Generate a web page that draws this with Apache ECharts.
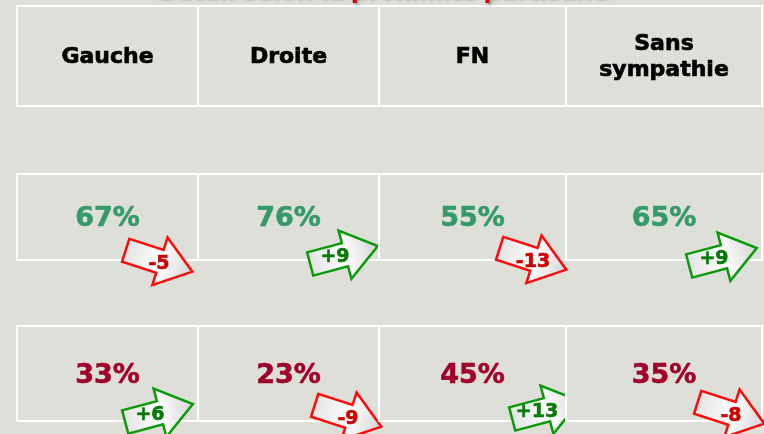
<!DOCTYPE html>
<html>
<head>
<meta charset="utf-8">
<script src="https://cdn.jsdelivr.net/npm/echarts@6/dist/echarts.min.js"></script>
<style>
  html, body { margin: 0; padding: 0; background: #dfdfda; }
  #chart { width: 764px; height: 434px; }
</style>
</head>
<body>
<div id="chart"></div>
<script>
    // données
    var titre = 'Détail selon la proximité partisane'
    var categories = ['Gauche', 'Droite', 'FN', 'Sans\nsympathie']
    var ligne1 = [67, 76, 55, 65]
    var evol1 = [-5, 9, -13, 9]
    var ligne2 = [33, 23, 45, 35]
    var evol2 = [6, -9, 13, -8]

    // mise en page (pixels dans la grille)
    var colEdges = [0, 181, 362, 549, 745]
    var rowEdges = [[0, 100], [168, 254], [320, 415]]
    var arrowOffsets = [
        [[-39, 1], [-35, -5], [-33, -1], [-39, -3]],
        [[-39, -8], [-31, -5], [-20, -11], [-31, -8]]
    ]

    var cells = []
    categories.forEach(function (c, i) {
        cells.push([i, 0, c, null])
    })
    ligne1.forEach(function (v, i) {
        cells.push([i, 1, v, evol1[i]])
    })
    ligne2.forEach(function (v, i) {
        cells.push([i, 2, v, evol2[i]])
    })

    function arrowPoints(len, shaftH, headH, headL) {
        var x0 = -len / 2, x1 = len / 2 - headL, x2 = len / 2
        return [
            [x0, -shaftH / 2], [x1, -shaftH / 2], [x1, -headH / 2], [x2, 0],
            [x1, headH / 2], [x1, shaftH / 2], [x0, shaftH / 2]
        ]
    }

    function renderCell(params, api) {
        var col = api.value(0), row = api.value(1)
        var p0 = api.coord([colEdges[col], rowEdges[row][0]])
        var p1 = api.coord([colEdges[col + 1], rowEdges[row][1]])
        var x = p0[0], y = p0[1], w = p1[0] - p0[0], h = p1[1] - p0[1]
        var children = [{
            type: 'rect',
            shape: { x: x, y: y, width: w, height: h },
            style: { fill: '#dfdfda', stroke: '#ffffff', lineWidth: 2 }
        }]
        var raw = cells[params.dataIndex]
        if (row === 0) {
            children.push({
                type: 'text',
                style: {
                    x: x + w / 2, y: y + h / 2 + 1, text: raw[2],
                    align: 'center', verticalAlign: 'middle',
                    fontFamily: 'DejaVu Sans', fontWeight: 'bold', fontSize: 22,
                    fill: '#000000', stroke: '#000000', lineWidth: 0.7, lineHeight: 26
                }
            })
        } else {
            var pc = row === 1 ? '#359a69' : '#a0002c'
            children.push({
                type: 'text',
                style: {
                    x: x + w / 2, y: y + h / 2 + 2, text: raw[2] + '%',
                    align: 'center', verticalAlign: 'middle',
                    fontFamily: 'DejaVu Sans', fontWeight: 'bold', fontSize: 27,
                    fill: pc, stroke: pc, lineWidth: 0.6
                }
            })
            var d = raw[3]
            var up = d > 0
            var off = arrowOffsets[row - 1][col]
            var cx = x + w + off[0], cy = y + h + off[1]
            children.push({
                type: 'polygon',
                x: cx, y: cy,
                rotation: up ? 0.26 : -0.31,
                shape: { points: arrowPoints(70, 24, 50, 34) },
                style: {
                    fill: new echarts.graphic.LinearGradient(0, 0, 1, 0, [
                        { offset: 0, color: '#e2e2e2' },
                        { offset: 0.5, color: '#ffffff' },
                        { offset: 1, color: '#d4d4d4' }
                    ]),
                    stroke: up ? '#0a9a0a' : '#ff0a0a',
                    lineWidth: 2.5,
                    lineJoin: 'miter'
                }
            })
            var lc = up ? '#087a08' : '#cc0000'
            children.push({
                type: 'text',
                style: {
                    x: cx + (up ? -9 : 0), y: cy + (up ? 2 : 3),
                    text: (up ? '+' : '') + d,
                    align: 'center', verticalAlign: 'middle',
                    fontFamily: 'DejaVu Sans', fontWeight: 'bold', fontSize: 19,
                    fill: lc, stroke: lc, lineWidth: 0.6
                }
            })
        }
        return { type: 'group', children: children }
    }

    var chart = echarts.init(document.getElementById('chart'))
    chart.setOption({
        backgroundColor: '#dfdfda',
        animation: false,
        title: {
            text: titre,
            left: 'center',
            top: -24,
            textStyle: {
                fontFamily: 'DejaVu Sans',
                fontWeight: 'bold',
                fontSize: 23,
                color: '#d40000',
                textShadowColor: 'rgba(0,0,0,0.35)',
                textShadowBlur: 3,
                textShadowOffsetX: 2,
                textShadowOffsetY: 2
            }
        },
        grid: { left: 17, top: 6, width: 745, height: 415 },
        xAxis: { type: 'value', min: 0, max: 745, show: false },
        yAxis: { type: 'value', min: 0, max: 415, inverse: true, show: false },
        series: [{
            type: 'custom',
            renderItem: renderCell,
            clip: false,
            data: cells.map(function (c) { return [c[0], c[1]] })
        }]
    })
</script>
</body>
</html>
